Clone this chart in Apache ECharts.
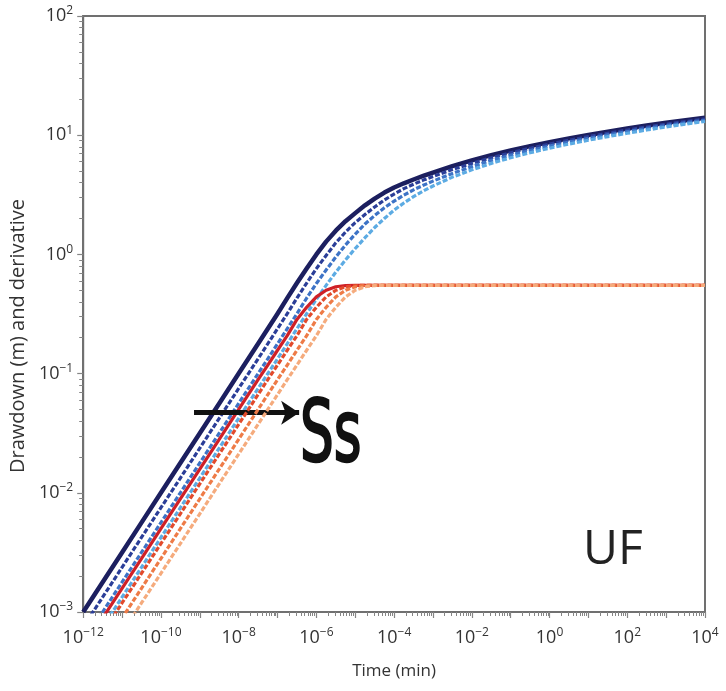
<!DOCTYPE html>
<html>
<head>
<meta charset="utf-8">
<script src="https://cdn.jsdelivr.net/npm/echarts@6/dist/echarts.min.js"></script>
<style>html,body{margin:0;padding:0;background:#fff}#c{width:726px;height:691px}</style>
</head>
<body>
<div id="c"></div>
<script>
// ---- data ----
const times = [1e-12, 3.16e-12, 1e-11, 3.16e-11, 1e-10, 3.16e-10, 1e-9, 3.16e-9, 1e-8,
  3.16e-8, 5.62e-8, 1e-7, 1.78e-7, 3.16e-7, 5.62e-7, 1e-6, 1.78e-6, 3.16e-6, 5.62e-6, 1e-5,
  1.78e-5, 3.16e-5, 5.62e-5, 1e-4, 1.78e-4, 3.16e-4, 5.62e-4, 1e-3,
  3.16e-3, 1e-2, 3.16e-2, 0.1, 0.316, 1, 3.16, 10, 31.6, 100, 316, 1000, 3160, 10000];

const drawdownSolid = [0.001, 0.00178, 0.00316, 0.00562, 0.01, 0.0178, 0.0316, 0.0562, 0.1,
  0.178, 0.238, 0.318, 0.43, 0.575, 0.76, 1.0, 1.28, 1.58, 1.9, 2.22,
  2.58, 2.94, 3.3, 3.64, 3.95, 4.25, 4.55, 4.85,
  5.5, 6.15, 6.8, 7.45, 8.1, 8.75, 9.4, 10.05, 10.7, 11.4, 12.05, 12.7, 13.35, 14.0];
const drawdownDash1 = [0.00075, 0.00133, 0.00237, 0.00422, 0.0075, 0.0133, 0.0237, 0.0422, 0.075,
  0.133, 0.178, 0.238, 0.318, 0.43, 0.575, 0.76, 0.98, 1.25, 1.54, 1.85,
  2.16, 2.5, 2.86, 3.21, 3.56, 3.88, 4.2, 4.5,
  5.15, 5.8, 6.47, 7.12, 7.78, 8.43, 9.08, 9.73, 10.38, 11.06, 11.72, 12.38, 13.03, 13.68];
const drawdownDash2 = [0.000562, 0.001, 0.00178, 0.00316, 0.00562, 0.01, 0.0178, 0.0316, 0.0562,
  0.1, 0.133, 0.178, 0.238, 0.318, 0.43, 0.57, 0.74, 0.95, 1.2, 1.48,
  1.8, 2.12, 2.46, 2.8, 3.14, 3.48, 3.8, 4.12,
  4.78, 5.45, 6.15, 6.8, 7.45, 8.1, 8.75, 9.4, 10.05, 10.7, 11.4, 12.05, 12.7, 13.35];
const drawdownDash3 = [0.000422, 0.00075, 0.00133, 0.00237, 0.00422, 0.0075, 0.0133, 0.0237, 0.0422,
  0.075, 0.1, 0.133, 0.178, 0.238, 0.318, 0.42, 0.55, 0.71, 0.9, 1.12,
  1.38, 1.68, 2.0, 2.35, 2.7, 3.05, 3.4, 3.75,
  4.45, 5.12, 5.8, 6.47, 7.12, 7.78, 8.43, 9.08, 9.73, 10.38, 11.06, 11.72, 12.38, 13.03];

const derivSolid = [0.0005, 0.00089, 0.00158, 0.00281, 0.005, 0.0089, 0.0158, 0.0281, 0.05,
  0.089, 0.118, 0.157, 0.208, 0.285, 0.36, 0.44, 0.5, 0.535, 0.548, 0.55,
  0.55, 0.55, 0.55, 0.55, 0.55, 0.55, 0.55, 0.55,
  0.55, 0.55, 0.55, 0.55, 0.55, 0.55, 0.55, 0.55, 0.55, 0.55, 0.55, 0.55, 0.55, 0.55];
const derivDash1 = [0.000375, 0.000667, 0.00119, 0.00211, 0.00375, 0.00667, 0.0119, 0.0211, 0.0375,
  0.0667, 0.089, 0.118, 0.157, 0.208, 0.285, 0.36, 0.44, 0.5, 0.535, 0.548,
  0.55, 0.55, 0.55, 0.55, 0.55, 0.55, 0.55, 0.55,
  0.55, 0.55, 0.55, 0.55, 0.55, 0.55, 0.55, 0.55, 0.55, 0.55, 0.55, 0.55, 0.55, 0.55];
const derivDash2 = [0.000281, 0.0005, 0.00089, 0.00158, 0.00281, 0.005, 0.0089, 0.0158, 0.0281,
  0.05, 0.0667, 0.089, 0.118, 0.157, 0.208, 0.285, 0.36, 0.44, 0.5, 0.535,
  0.548, 0.55, 0.55, 0.55, 0.55, 0.55, 0.55, 0.55,
  0.55, 0.55, 0.55, 0.55, 0.55, 0.55, 0.55, 0.55, 0.55, 0.55, 0.55, 0.55, 0.55, 0.55];
const derivDash3 = [0.000211, 0.000375, 0.000667, 0.00119, 0.00211, 0.00375, 0.00667, 0.0119, 0.0211,
  0.0375, 0.05, 0.0667, 0.089, 0.118, 0.157, 0.208, 0.285, 0.36, 0.44, 0.5,
  0.535, 0.548, 0.55, 0.55, 0.55, 0.55, 0.55, 0.55,
  0.55, 0.55, 0.55, 0.55, 0.55, 0.55, 0.55, 0.55, 0.55, 0.55, 0.55, 0.55, 0.55, 0.55];

const xMajorTicks = [1e-12, 1e-11, 1e-10, 1e-9, 1e-8, 1e-7, 1e-6, 1e-5, 1e-4, 1e-3, 1e-2, 1e-1, 1, 10, 100, 1000, 10000];
const xLabelTicks = [1e-12, 1e-10, 1e-8, 1e-6, 1e-4, 1e-2, 1, 100, 10000];
const yMajorTicks = [1e-3, 1e-2, 1e-1, 1, 10, 100];
const yLabelTicks = [1e-3, 1e-2, 1e-1, 1, 10, 100];
const arrowFrom = [7.1e-10, 0.047];
const arrowTo = [3.6e-7, 0.047];

// ---- helpers ----
function minorTicks(majors) {
  const out = [];
  for (let i = 0; i < majors.length - 1; i++) {
    for (let k = 2; k <= 9; k++) out.push(+(k * majors[i]).toPrecision(6));
  }
  return out;
}
const xMinorTicks = minorTicks(xMajorTicks);
const yMinorTicks = minorTicks(yMajorTicks);

const FONT = '"Open Sans", sans-serif';
const rich = {
  b: { fontSize: 18, fontFamily: FONT, color: '#333', lineHeight: 22 },
  e: { fontSize: 12, fontFamily: FONT, color: '#333', lineHeight: 12, verticalAlign: 'top' }
};
function powLabel(v) {
  const e = Math.round(Math.log10(v));
  const s = e < 0 ? '\u2212' + Math.abs(e) : String(e);
  return '{b|10}{e|' + s + '}';
}
function pairs(vals) { return times.map((t, i) => [t, vals[i]]); }

const AX = '#707070';
const TK = '#858585';

function lineSeries(name, vals, color, width, dashed, z) {
  return {
    name, type: 'line', data: pairs(vals), xAxisIndex: 0, yAxisIndex: 0,
    showSymbol: false, symbol: 'none', smooth: false, z: z,
    lineStyle: { color, width, type: dashed ? [5, 2] : 'solid', cap: 'butt', join: 'round' }
  };
}

const series = [
  lineSeries('s0', drawdownSolid, '#1c1f5f', 4.5, false, 2),
  lineSeries('s1', drawdownDash1, '#2b3e98', 3.2, true, 3),
  lineSeries('s2', drawdownDash2, '#3d73c6', 3.2, true, 3),
  lineSeries('s3', drawdownDash3, '#5cabe3', 3.2, true, 3),
  lineSeries('d0', derivSolid, '#cf2027', 3.2, false, 4),
  lineSeries('d1', derivDash1, '#e24a2c', 3.2, true, 5),
  lineSeries('d2', derivDash2, '#ee7b47', 3.2, true, 5),
  lineSeries('d3', derivDash3, '#f5ab7d', 3.2, true, 5)
];
series[0].markLine = {
  silent: true, symbol: ['none', 'arrow'], symbolSize: 18,
  lineStyle: { color: '#111', width: 5, type: 'solid' },
  label: { show: false }, emphasis: { disabled: true },
  data: [[{ coord: arrowFrom }, { coord: arrowTo }]]
};

const chart = echarts.init(document.getElementById('c'), null, { renderer: 'canvas' });
chart.setOption({
  animation: false,
  backgroundColor: '#fff',
  grid: { left: 82, right: 21, top: 16, bottom: 79, show: true, borderColor: AX, borderWidth: 2 },
  xAxis: [
    {
      type: 'log', logBase: 10, min: 1e-12, max: 1e4, position: 'bottom',
      axisLine: { show: true, lineStyle: { color: AX, width: 2 } },
      axisTick: { show: true, inside: false, length: 6, customValues: xMajorTicks, lineStyle: { color: TK, width: 1.2 } },
      minorTick: { show: false }, splitLine: { show: false },
      axisLabel: { show: true, customValues: xLabelTicks, formatter: powLabel, rich: rich, margin: 15 },
      name: 'Time (min)', nameLocation: 'middle', nameGap: 51,
      nameTextStyle: { fontSize: 17, fontFamily: FONT, color: '#333' }
    },
    {
      type: 'log', logBase: 10, min: 1e-12, max: 1e4, position: 'bottom',
      axisLine: { show: false },
      axisTick: { show: true, inside: false, length: 4, customValues: xMinorTicks, lineStyle: { color: TK, width: 1 } },
      minorTick: { show: false }, splitLine: { show: false }, axisLabel: { show: false }
    }
  ],
  yAxis: [
    {
      type: 'log', logBase: 10, min: 1e-3, max: 1e2, position: 'left',
      axisLine: { show: true, lineStyle: { color: AX, width: 2 } },
      axisTick: { show: true, inside: false, length: 6, customValues: yMajorTicks, lineStyle: { color: TK, width: 1.2 } },
      minorTick: { show: false }, splitLine: { show: false },
      axisLabel: { show: true, customValues: yLabelTicks, formatter: powLabel, rich: rich, margin: 10 },
      name: 'Drawdown (m) and derivative', nameLocation: 'middle', nameGap: 50,
      nameTextStyle: { fontSize: 20, fontFamily: FONT, color: '#333', padding: [0, 44, 0, 0] }
    },
    {
      type: 'log', logBase: 10, min: 1e-3, max: 1e2, position: 'left',
      axisLine: { show: false },
      axisTick: { show: true, inside: false, length: 4, customValues: yMinorTicks, lineStyle: { color: TK, width: 1 } },
      minorTick: { show: false }, splitLine: { show: false }, axisLabel: { show: false }
    }
  ],
  graphic: [
    { type: 'text', x: 300, y: 396, scaleX: 0.62, z: 100,
      style: { text: 'Ss', fontSize: 86, fontFamily: '"DejaVu Sans"', fill: '#111', stroke: '#111', lineWidth: 2.5 } },
    { type: 'text', x: 583, y: 526, z: 100,
      style: { text: 'UF', fontSize: 48, fontFamily: FONT, fill: '#222' } }
  ],
  series: series
});
</script>
</body>
</html>
